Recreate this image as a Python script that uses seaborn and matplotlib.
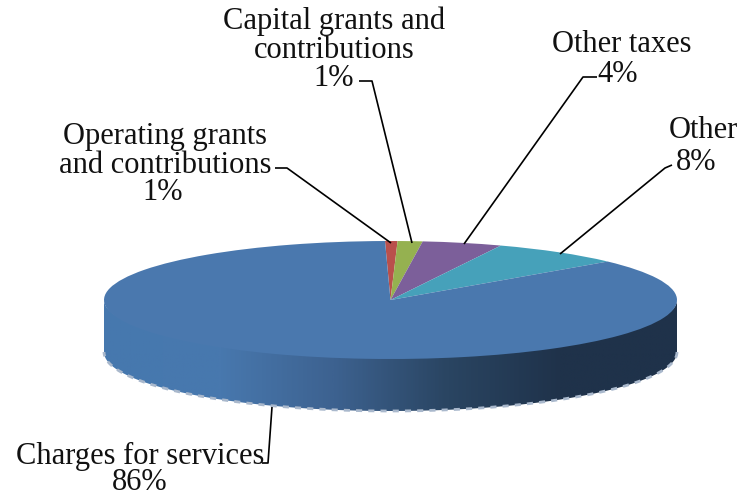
import numpy as np
import seaborn as sns
import matplotlib.pyplot as plt
from matplotlib.patches import Polygon

sns.set_theme(style='white')
plt.rcParams['font.family'] = ['Liberation Serif', 'DejaVu Serif']

# shares, printed labels are the rounded ones from the chart
categories = ['Charges for services', 'Operating grants\nand contributions',
              'Capital grants and\ncontributions', 'Other taxes', 'Other']
shares = [86.0, 0.7, 1.4, 4.5, 7.4]
pct_labels = ['86%', '1%', '1%', '4%', '8%']
colors = ['#4a78ae', '#b9504c', '#95b150', '#7c5f9a', '#46a1ba']

W, H = 742, 497
cx, cy, rx, ry, depth = 390.5, 300, 286.5, 59, 52

fig = plt.figure(figsize=(W / 100, H / 100), dpi=100, facecolor='white')

# pixel axes for wall, leaders and text
bg = fig.add_axes([0, 0, 1, 1])
bg.set_xlim(0, W)
bg.set_ylim(H, 0)
bg.axis('off')

# side wall of the disc, top edge runs under the pie so no seam shows
t = np.linspace(0, np.pi, 300)
ex = cx + rx * np.cos(t)
ey = cy + ry * np.sin(t)
wall_pts = np.r_[np.c_[ex, ey - 4 * np.sin(t)], np.c_[ex[::-1], ey[::-1] + depth]]
wall_cmap = sns.blend_palette(['#4678ae', '#4878ae', '#3d6290', '#2a4562', '#1f324a', '#1f324a'], as_cmap=True)
grad = bg.imshow(np.linspace(0, 1, 400)[None, :], cmap=wall_cmap, aspect='auto',
                 extent=[cx - rx, cx + rx, cy + ry + depth, cy - 2])
wall = Polygon(wall_pts, closed=True, transform=bg.transData, fc='none', ec='none')
bg.add_patch(wall)
grad.set_clip_path(wall)
bg.set_xlim(0, W)
bg.set_ylim(H, 0)

# dashed light rim along the bottom
bg.plot(ex, ey + depth, color='#a9b8cc', lw=2.0, ls=(0, (2.2, 2.2)), zorder=3)

# top face: a normal pie squashed into the ellipse box
pie_ax = fig.add_axes([(cx - rx) / W, 1 - (cy + ry) / H, 2 * rx / W, 2 * ry / H])
order = [1, 2, 3, 4, 0]
pie_ax.pie([shares[i] for i in order], colors=[colors[i] for i in order],
           startangle=91.1, counterclock=False, radius=1,
           wedgeprops={'linewidth': 0})
pie_ax.set_aspect('auto')
pie_ax.set_xlim(-1, 1)
pie_ax.set_ylim(-1, 1)
pie_ax.patch.set_alpha(0)

# leader lines, drawn above the pie
top = fig.add_axes([0, 0, 1, 1])
top.set_xlim(0, W)
top.set_ylim(H, 0)
top.axis('off')
top.patch.set_alpha(0)

leaders = [
    ([262, 268, 272], [463, 463, 407]),
    ([275, 287, 391], [168, 168, 243]),
    ([359, 372, 412], [81, 81, 243]),
    ([597, 583, 464], [77, 77, 244]),
    ([672, 665, 560], [165, 168, 254]),
]
for xs, ys in leaders:
    top.plot(xs, ys, color='black', lw=1.2, solid_capstyle='butt')

name_pos = [(140, 456), (165, 151), (334, 36), (622, 45), (703, 130)]
pct_pos = [(140, 483), (163, 193), (334, 79), (618, 74), (696, 162)]
for name, pct, np_xy, pp_xy in zip(categories, pct_labels, name_pos, pct_pos):
    top.text(np_xy[0], np_xy[1], name, ha='center', va='center', fontsize=22,
             linespacing=1.02, color='#111111')
    top.text(pp_xy[0], pp_xy[1], pct, ha='center', va='center', fontsize=22, color='#111111')

plt.savefig('out.png', dpi=100)
